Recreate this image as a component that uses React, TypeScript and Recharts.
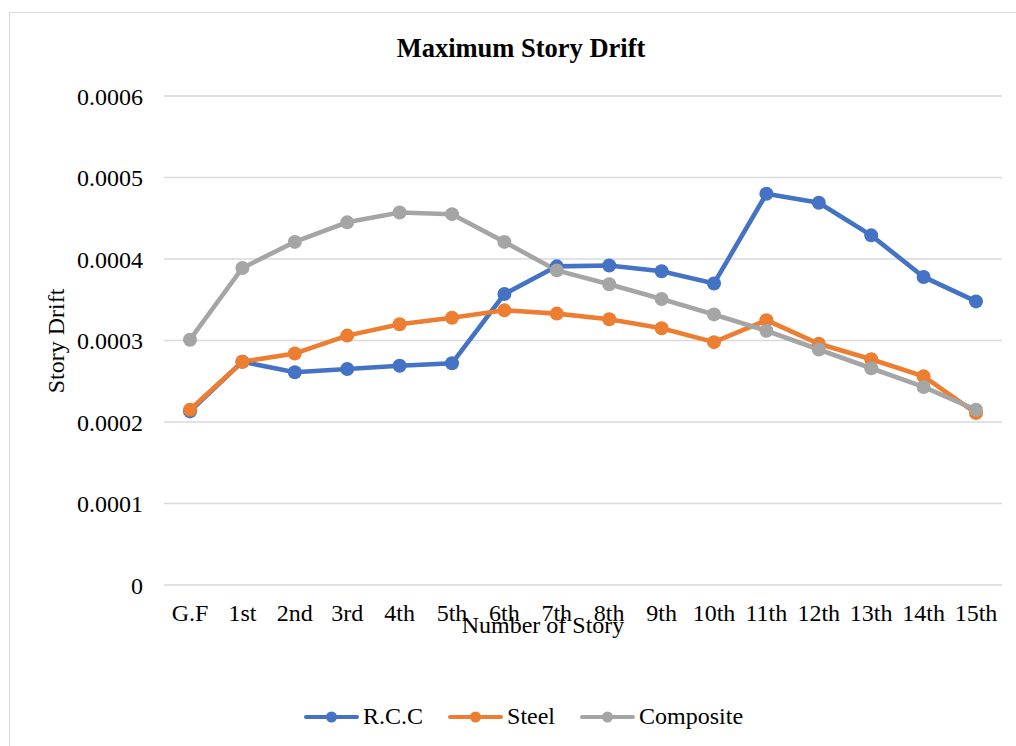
import { LineChart, Line, XAxis, YAxis, CartesianGrid } from "recharts";

const stories = [
  "G.F", "1st", "2nd", "3rd", "4th", "5th", "6th", "7th",
  "8th", "9th", "10th", "11th", "12th", "13th", "14th", "15th",
];

const rcc = [
  0.000213, 0.000274, 0.000261, 0.000265, 0.000269, 0.000272, 0.000357, 0.000391,
  0.000392, 0.000385, 0.00037, 0.00048, 0.000469, 0.000429, 0.000378, 0.000348,
];

const steel = [
  0.000215, 0.000274, 0.000284, 0.000306, 0.00032, 0.000328, 0.000337, 0.000333,
  0.000326, 0.000315, 0.000298, 0.000325, 0.000296, 0.000277, 0.000256, 0.000211,
];

const composite = [
  0.000301, 0.000389, 0.000421, 0.000445, 0.000457, 0.000455, 0.000421, 0.000386,
  0.000369, 0.000351, 0.000332, 0.000312, 0.000289, 0.000266, 0.000243, 0.000215,
];

const yTicks = [0, 0.0001, 0.0002, 0.0003, 0.0004, 0.0005, 0.0006];

const SERIES = [
  { key: "R.C.C", color: "#4472C4" },
  { key: "Steel", color: "#ED7D31" },
  { key: "Composite", color: "#A5A5A5" },
];

const FONT = '"Liberation Serif", "Times New Roman", serif';

const data = stories.map((story, i) => ({
  story,
  "R.C.C": rcc[i],
  Steel: steel[i],
  Composite: composite[i],
}));

const fmt = (v: number) => (v === 0 ? "0" : v.toFixed(4));

export default function App() {
  return (
    <div
      style={{
        position: "absolute",
        left: 0,
        top: 0,
        width: 1016,
        height: 746,
        overflow: "hidden",
        background: "#fff",
        fontFamily: FONT,
      }}
    >
      <div
        style={{
          position: "absolute",
          left: 9,
          top: 12,
          width: 1040,
          height: 760,
          border: "1.5px solid #d9d9d9",
        }}
      />
      <div
        style={{
          position: "absolute",
          left: 0,
          width: 1042,
          top: 34,
          textAlign: "center",
          fontSize: 26.5,
          fontWeight: "bold",
          lineHeight: "29px",
          color: "#000",
        }}
      >
        Maximum Story Drift
      </div>
      <div style={{ position: "absolute", left: 0, top: 0 }}>
        <LineChart
          width={1016}
          height={746}
          data={data}
          margin={{ top: 96, right: 14, bottom: 131, left: 0 }}
        >
          <CartesianGrid vertical={false} stroke="#d9d9d9" strokeWidth={1.3} />
          <XAxis
            dataKey="story"
            height={30}
            axisLine={false}
            tickLine={false}
            tickSize={0}
            tickMargin={19}
            interval={0}
            padding={{ left: 26, right: 26 }}
            tick={{ fontSize: 24, fill: "#000", fontFamily: FONT }}
            label={{
              content: () => (
                <text
                  x={543}
                  y={633}
                  textAnchor="middle"
                  fontSize={24}
                  fontFamily={FONT}
                  fill="#000"
                >
                  Number of Story
                </text>
              ),
            }}
          />
          <YAxis
            width={164}
            domain={[0, 0.0006]}
            ticks={yTicks}
            axisLine={false}
            tickLine={false}
            tickSize={0}
            tickMargin={21}
            tickFormatter={fmt}
            tick={{ fontSize: 24, fill: "#000", fontFamily: FONT }}
            label={{
              content: () => (
                <text
                  x={64}
                  y={341}
                  transform="rotate(-90 64 341)"
                  textAnchor="middle"
                  fontSize={24}
                  fontFamily={FONT}
                  fill="#000"
                >
                  Story Drift
                </text>
              ),
            }}
          />
          {SERIES.map((s) => (
            <Line
              key={s.key}
              type="linear"
              dataKey={s.key}
              stroke={s.color}
              strokeWidth={4.6}
              dot={{ r: 7, fill: s.color, stroke: s.color, strokeWidth: 0 }}
              activeDot={false}
              isAnimationActive={false}
            />
          ))}
        </LineChart>
      </div>
      <div
        style={{
          position: "absolute",
          left: 304,
          top: 703,
          display: "flex",
          alignItems: "center",
          fontSize: 24,
          lineHeight: "27px",
          color: "#000",
        }}
      >
        {SERIES.map((s, i) => (
          <div
            key={s.key}
            style={{ display: "flex", alignItems: "center", marginLeft: i === 0 ? 0 : 25 }}
          >
            <svg width={55} height={16} style={{ marginRight: 4 }}>
              <line x1={2} y1={8} x2={53} y2={8} stroke={s.color} strokeWidth={4} strokeLinecap="round" />
              <circle cx={27.5} cy={8} r={5.5} fill={s.color} />
            </svg>
            <span>{s.key}</span>
          </div>
        ))}
      </div>
    </div>
  );
}
